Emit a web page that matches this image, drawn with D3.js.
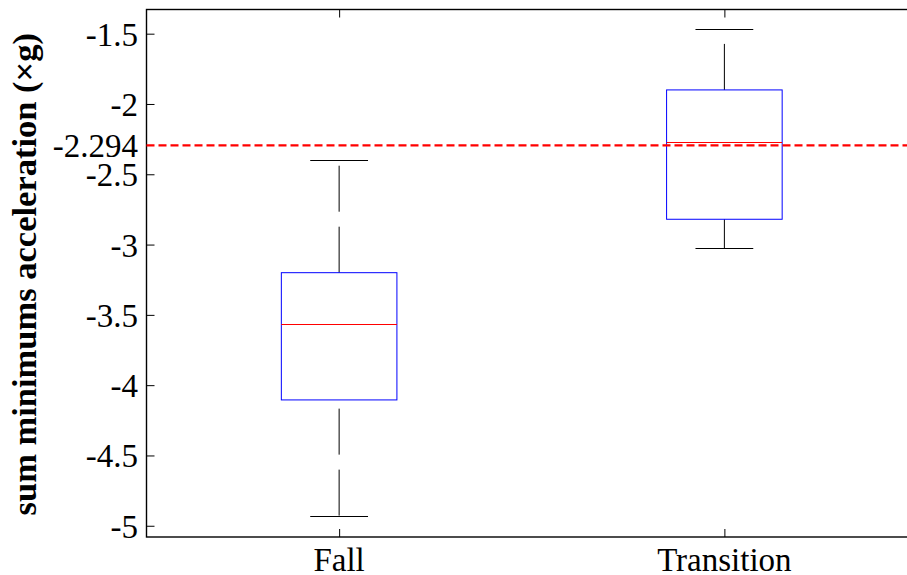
<!DOCTYPE html>
<html>
<head>
<meta charset="utf-8">
<script src="https://cdn.jsdelivr.net/npm/d3@7"></script>
<style>
  html, body { margin: 0; padding: 0; background: #fff; }
  svg { display: block; }
</style>
</head>
<body>
<svg id="chart" width="907" height="575"></svg>
<script>
// Box-plot summary per group
const categories = ["Fall", "Transition"];
const lowerWhisker = [-4.928, -3.026];
const q1Values = [-4.105, -2.820];
const medianValues = [-3.565, -2.268];
const q3Values = [-3.200, -1.900];
const upperWhisker = [-2.400, -1.469];
const threshold = -2.294;
const yTickValues = [-5, -4.5, -4, -3.5, -3, -2.5, -2, -1.5];

(function () {
const svg = d3.select("#chart");
const plotLeft = 146.5, plotRight = 917, plotTop = 9.5, plotBottom = 537;
const serif = "'Liberation Serif', 'Times New Roman', Times, serif";

const x = d3.scaleLinear().domain([0.5, 2.5]).range([plotLeft, plotRight]);
const y = d3.scaleLinear().domain([-5.08, -1.328]).range([plotBottom, plotTop]);

const boxHalf = 0.15, capHalf = 0.075;
const fontSize = 33;

// Axis frame
svg.append("rect")
  .attr("x", plotLeft).attr("y", plotTop)
  .attr("width", plotRight - plotLeft).attr("height", plotBottom - plotTop)
  .attr("fill", "none").attr("stroke", "#000").attr("stroke-width", 1.4);

// Y axis (ticks pointing inward)
const yAxis = d3.axisRight(y).tickValues(yTickValues).tickSize(8).tickFormat(() => "");
svg.append("g").attr("transform", `translate(${plotLeft},0)`).call(yAxis)
  .call(g => g.select(".domain").remove())
  .call(g => g.selectAll("line").attr("stroke", "#000"));
svg.append("g").selectAll("text").data(yTickValues).join("text")
  .attr("x", 138).attr("y", d => y(d) + 12)
  .attr("text-anchor", "end").attr("font-size", fontSize)
  .attr("font-family", serif)
  .text(d => String(d));

// X axis (ticks inward at bottom and top)
const xIdx = categories.map((c, i) => i + 1);
const xAxis = d3.axisTop(x).tickValues(xIdx).tickSize(8).tickFormat(() => "");
svg.append("g").attr("transform", `translate(0,${plotBottom})`).call(xAxis)
  .call(g => g.select(".domain").remove())
  .call(g => g.selectAll("line").attr("stroke", "#000"));
const xAxisTop = d3.axisBottom(x).tickValues(xIdx).tickSize(8).tickFormat(() => "");
svg.append("g").attr("transform", `translate(0,${plotTop})`).call(xAxisTop)
  .call(g => g.select(".domain").remove())
  .call(g => g.selectAll("line").attr("stroke", "#000"));
svg.append("g").selectAll("text").data(categories).join("text")
  .attr("x", (d, i) => x(i + 1)).attr("y", 571)
  .attr("text-anchor", "middle").attr("font-size", fontSize)
  .attr("font-family", serif)
  .text(d => d);

// Y axis title
svg.append("text")
  .attr("transform", `translate(36,${(plotTop + plotBottom) / 2 + 1}) rotate(-90)`)
  .attr("text-anchor", "middle").attr("font-size", 34.5).attr("font-weight", "bold")
  .attr("font-family", serif)
  .text("sum minimums acceleration (×g)");

// Boxes
const groups = svg.append("g").selectAll("g").data(categories).join("g");

// Whiskers: drawn from the lower value upward, dashed
groups.append("line")
  .attr("x1", (d, i) => x(i + 1)).attr("x2", (d, i) => x(i + 1))
  .attr("y1", (d, i) => y(q3Values[i])).attr("y2", (d, i) => y(upperWhisker[i]))
  .attr("stroke", "#000").attr("stroke-width", 1).attr("stroke-dasharray", "46,15");
groups.append("line")
  .attr("x1", (d, i) => x(i + 1)).attr("x2", (d, i) => x(i + 1))
  .attr("y1", (d, i) => y(lowerWhisker[i])).attr("y2", (d, i) => y(q1Values[i]))
  .attr("stroke", "#000").attr("stroke-width", 1).attr("stroke-dasharray", "46,15");

// Whisker caps
[upperWhisker, lowerWhisker].forEach(arr => {
  groups.append("line")
    .attr("x1", (d, i) => x(i + 1 - capHalf)).attr("x2", (d, i) => x(i + 1 + capHalf))
    .attr("y1", (d, i) => Math.round(y(arr[i])) + 0.5).attr("y2", (d, i) => Math.round(y(arr[i])) + 0.5)
    .attr("stroke", "#000").attr("stroke-width", 1);
});

// Box body
groups.append("rect")
  .attr("x", (d, i) => x(i + 1 - boxHalf))
  .attr("y", (d, i) => y(q3Values[i]))
  .attr("width", (d, i) => x(i + 1 + boxHalf) - x(i + 1 - boxHalf))
  .attr("height", (d, i) => y(q1Values[i]) - y(q3Values[i]))
  .attr("fill", "none").attr("stroke", "#0000ff").attr("stroke-width", 1);

// Median
groups.append("line")
  .attr("x1", (d, i) => x(i + 1 - boxHalf)).attr("x2", (d, i) => x(i + 1 + boxHalf))
  .attr("y1", (d, i) => Math.round(y(medianValues[i])) + 0.5)
  .attr("y2", (d, i) => Math.round(y(medianValues[i])) + 0.5)
  .attr("stroke", "#ff0000").attr("stroke-width", 1);

// Threshold line and its label
svg.append("line")
  .attr("x1", plotLeft).attr("x2", plotRight)
  .attr("y1", y(threshold)).attr("y2", y(threshold))
  .attr("stroke", "#ff0000").attr("stroke-width", 2.2).attr("stroke-dasharray", "8,4");
svg.append("text")
  .attr("x", 138).attr("y", y(threshold) + 12)
  .attr("text-anchor", "end").attr("font-size", fontSize)
  .attr("font-family", serif)
  .text(String(threshold));
})();
</script>
</body>
</html>
